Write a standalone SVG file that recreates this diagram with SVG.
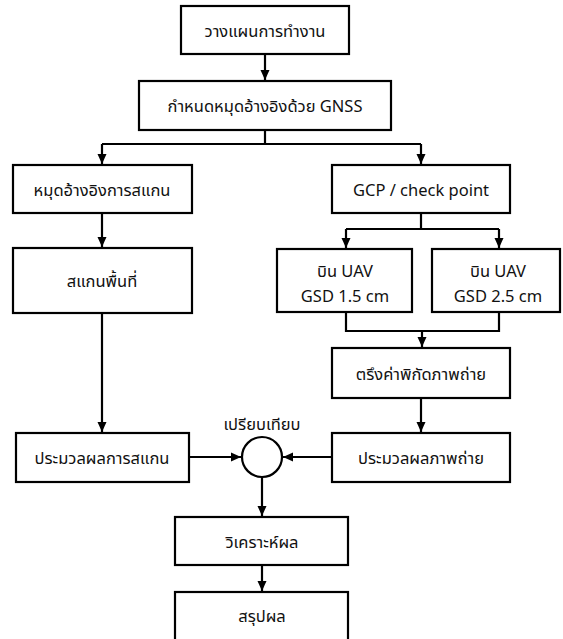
<svg xmlns="http://www.w3.org/2000/svg" width="563" height="639" viewBox="0 0 563 639">
<style>
.box{fill:#fff;stroke:#000;stroke-width:2.2}
.t{font-family:"Noto Sans","Noto Sans Thai","DejaVu Sans",Tahoma,sans-serif;font-size:16.5px;fill:#111;text-anchor:middle;dominant-baseline:central}
.c{fill:none;stroke:#000;stroke-width:2.2}
</style>
<defs>
<marker id="ah" markerUnits="userSpaceOnUse" markerWidth="11" markerHeight="11" refX="10" refY="5.5" orient="auto">
<path d="M0,1 L10,5.5 L0,10 z" fill="#000"/>
</marker>
</defs>
<rect width="563" height="639" fill="#fff"/>
<g id="connectors">
<path class="c" d="M265,54 V80" marker-end="url(#ah)"/>
<path class="c" d="M265,130 V144 M102,144 H421"/>
<path class="c" d="M102,144 V164" marker-end="url(#ah)"/>
<path class="c" d="M421,144 V164" marker-end="url(#ah)"/>
<path class="c" d="M102,213 V247" marker-end="url(#ah)"/>
<path class="c" d="M102,313 V432" marker-end="url(#ah)"/>
<path class="c" d="M421,213 V229 M346,229 H499"/>
<path class="c" d="M346,229 V248" marker-end="url(#ah)"/>
<path class="c" d="M499,229 V248" marker-end="url(#ah)"/>
<path class="c" d="M346,312 V331 H499 V312"/>
<path class="c" d="M422,331 V347" marker-end="url(#ah)"/>
<path class="c" d="M421,398 V432" marker-end="url(#ah)"/>
<path class="c" d="M189,457 H241" marker-end="url(#ah)"/>
<path class="c" d="M332,457 H283" marker-end="url(#ah)"/>
<path class="c" d="M262,477 V516" marker-end="url(#ah)"/>
<path class="c" d="M262,565 V591" marker-end="url(#ah)"/>
</g>
<g id="n1"><rect class="box" x="181" y="6" width="168" height="48"/><text class="t" x="265" y="30">วางแผนการทำงาน</text></g>
<g id="n2"><rect class="box" x="139" y="81" width="252" height="49"/><text class="t" x="265" y="105">กำหนดหมุดอ้างอิงด้วย GNSS</text></g>
<g id="n3"><rect class="box" x="13" y="165" width="179" height="48"/><text class="t" x="102" y="189">หมุดอ้างอิงการสแกน</text></g>
<g id="n4"><rect class="box" x="332" y="165" width="178" height="48"/><text class="t" x="421" y="189">GCP / check point</text></g>
<g id="n5"><rect class="box" x="13" y="248" width="179" height="65"/><text class="t" x="102" y="280">สแกนพื้นที่</text></g>
<g id="n6"><rect class="box" x="277" y="249" width="135" height="63"/><text class="t" x="345" y="270">บิน UAV</text><text class="t" x="345" y="295">GSD 1.5 cm</text></g>
<g id="n7"><rect class="box" x="432" y="249" width="128" height="63"/><text class="t" x="498" y="270">บิน UAV</text><text class="t" x="498" y="295">GSD 2.5 cm</text></g>
<g id="n8"><rect class="box" x="332" y="348" width="178" height="50"/><text class="t" x="421" y="373">ตรึงค่าพิกัดภาพถ่าย</text></g>
<g id="n9"><rect class="box" x="16" y="433" width="173" height="49"/><text class="t" x="102" y="457">ประมวลผลการสแกน</text></g>
<g id="n10"><rect class="box" x="332" y="433" width="178" height="49"/><text class="t" x="421" y="457">ประมวลผลภาพถ่าย</text></g>
<g id="n11"><circle cx="262" cy="457" r="20" fill="#fff" stroke="#000" stroke-width="2.2"/><text class="t" x="262" y="423">เปรียบเทียบ</text></g>
<g id="n12"><rect class="box" x="175" y="517" width="173" height="48"/><text class="t" x="262" y="541">วิเคราะห์ผล</text></g>
<g id="n13"><rect class="box" x="175" y="592" width="173" height="50"/><text class="t" x="262" y="615">สรุปผล</text></g>
</svg>
